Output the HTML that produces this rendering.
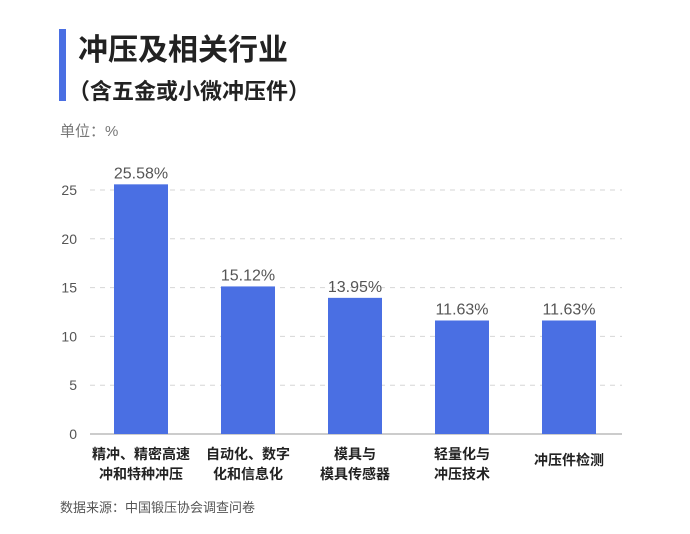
<!DOCTYPE html>
<html><head><meta charset="utf-8"><style>
body{margin:0;background:#fff;font-family:"Liberation Sans","Noto Sans CJK SC",sans-serif;}
svg text{font-family:"Liberation Sans","Noto Sans CJK SC",sans-serif;}
</style></head><body>
<svg width="690" height="529" xmlns="http://www.w3.org/2000/svg">
<rect x="59" y="29" width="7" height="72" fill="#4a6fe3"/>
<text x="78" y="60" font-size="30" font-weight="bold" fill="#222">冲压及相关行业</text>
<text x="68" y="99" font-size="22" font-weight="bold" fill="#222">（含五金或小微冲压件）</text>
<text x="60" y="136" font-size="15" fill="#777">单位：%</text>
<g id="grid"></g>
<g id="yticks"></g>
<line x1="90" y1="434" x2="622" y2="434" stroke="#999" stroke-width="1"/>
<g id="bars"></g>
<g id="xlabels"></g>
<text x="60" y="512" font-size="13" fill="#555">数据来源：中国锻压协会调查问卷</text>
</svg>
<script>
const categoriesLine1 = ["精冲、精密高速","自动化、数字","模具与","轻量化与","冲压件检测"];
const categoriesLine2 = ["冲和特种冲压","化和信息化","模具传感器","冲压技术",""];
const values = [25.58,15.12,13.95,11.63,11.63];
const valueLabels = ["25.58%","15.12%","13.95%","11.63%","11.63%"];
const yTicks = [0,5,10,15,20,25];
const NS="http://www.w3.org/2000/svg";
const y0=434, yTop=190, vTop=25;
function yScale(v){return y0-(v/vTop)*(y0-yTop);}
function xCenter(i){return 141+i*107;}
function mk(tag,attrs,parent){const e=document.createElementNS(NS,tag);for(const k in attrs)e.setAttribute(k,attrs[k]);parent.appendChild(e);return e;}
const grid=document.getElementById('grid'),yt=document.getElementById('yticks'),bars=document.getElementById('bars'),xl=document.getElementById('xlabels');
yTicks.forEach(t=>{
  if(t>0){const l=mk('line',{x1:90,x2:622,y1:yScale(t),y2:yScale(t),stroke:'#d6d6d6','stroke-dasharray':'5,5'},grid);
  
  }
  const tx=mk('text',{x:77,y:yScale(t)+5,'font-size':14,fill:'#555','text-anchor':'end'},yt);
  tx.textContent=t;
  
  
});
values.forEach((v,i)=>{
  const w=54,cx=xCenter(i);
  const r=mk('rect',{x:cx-w/2,y:yScale(v),width:w,height:y0-yScale(v),fill:'#4a6fe3'},bars);
  
  
  const t=mk('text',{x:cx,y:yScale(v)-6,'font-size':16,fill:'#555','text-anchor':'middle'},bars);
  t.textContent=valueLabels[i];
  
  
  const two=categoriesLine2[i]!=="";
  const a=mk('text',{x:cx,y:two?459:465,'font-size':14,'font-weight':'bold',fill:'#222','text-anchor':'middle'},xl);
  a.textContent=categoriesLine1[i];
  
  
  if(two){const b=mk('text',{x:cx,y:479,'font-size':14,'font-weight':'bold',fill:'#222','text-anchor':'middle'},xl);
  b.textContent=categoriesLine2[i];
  
  }
});
</script>
</body></html>
